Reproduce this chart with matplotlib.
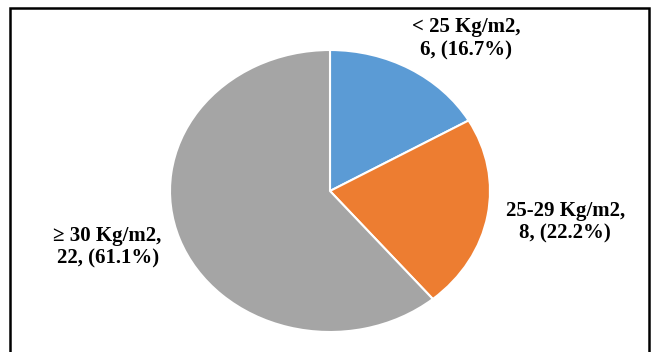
import matplotlib.pyplot as plt
from matplotlib.patches import Rectangle

# BMI groups
labels = ["< 25 Kg/m2,\n6, (16.7%)", "25-29 Kg/m2,\n8, (22.2%)", "\u2265 30 Kg/m2,\n22, (61.1%)"]
counts = [6, 8, 22]
colors = ["#5B9BD5", "#ED7D31", "#A5A5A5"]
label_pos = [(0.85, 1.08), (1.47, -0.22), (-1.39, -0.40)]

W, H = 657, 352
fig = plt.figure(figsize=(W / 100, H / 100), dpi=100)

# pie is drawn a bit wider than tall
cx, cy, rx, ry = 330, 191, 160, 141
ax = fig.add_axes([(cx - rx) / W, (H - cy - ry) / H, 2 * rx / W, 2 * ry / H])
wedges, _ = ax.pie(counts, colors=colors, startangle=90, counterclock=False,
                   radius=1, wedgeprops=dict(edgecolor="white", linewidth=1.5))
ax.set_aspect("auto")
ax.set_xlim(-1, 1)
ax.set_ylim(-1, 1)
ax.axis("off")

for txt, (x, y) in zip(labels, label_pos):
    ax.text(x, y, txt, ha="center", va="center", fontsize=15, fontweight="bold",
            family=["Liberation Serif", "DejaVu Serif"], linespacing=1.2, clip_on=False)

# frame around the chart
fig.patches.append(Rectangle((10 / W, -0.05), 639 / W, 1.05 - 8 / H, transform=fig.transFigure,
                             fill=False, edgecolor="black", linewidth=1.8))

fig.savefig("out.png", dpi=100)
